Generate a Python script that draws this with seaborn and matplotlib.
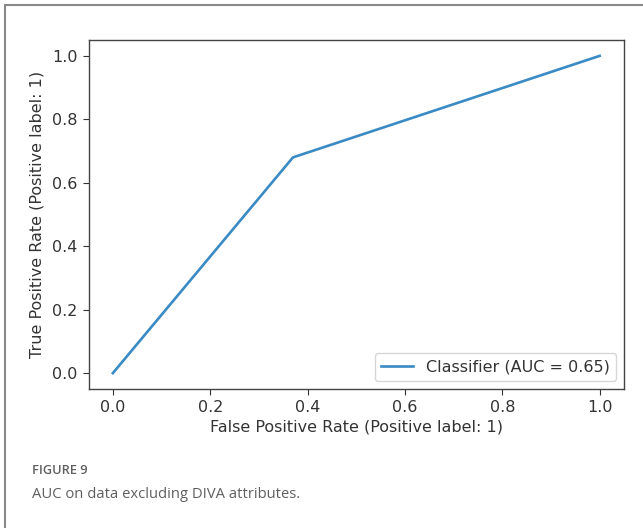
import matplotlib
matplotlib.use("Agg")
import matplotlib.pyplot as plt
import seaborn as sns
import pandas as pd
from matplotlib.patches import Rectangle
from matplotlib import font_manager

fpr = [0.0, 0.37, 1.0]
tpr = [0.0, 0.68, 1.0]
auc_label = "Classifier (AUC = 0.65)"
xticks = [0.0, 0.2, 0.4, 0.6, 0.8, 1.0]
yticks = [0.0, 0.2, 0.4, 0.6, 0.8, 1.0]

df = pd.DataFrame({"fpr": fpr, "tpr": tpr})

plt.rcParams["font.family"] = ["DejaVu Sans"]
fp = font_manager.FontProperties(family="DejaVu Sans", size=11.5)

W, H = 643, 528
fig = plt.figure(figsize=(W / 100, H / 100), dpi=100)
fig.patch.set_facecolor("white")

# outer box
fig.patches.append(Rectangle((5 / W, -0.1), 1.2, (1 - 5 / H) + 0.1, transform=fig.transFigure,
                             fill=False, edgecolor="#888888", linewidth=1.5, clip_on=False))

ax = fig.add_axes([88.5 / W, 1 - 389 / H, (624 - 88.5) / W, (389 - 40) / H])
sns.lineplot(data=df, x="fpr", y="tpr", ax=ax, color="#3a8ac4", linewidth=1.9,
             label=auc_label, estimator=None, sort=False)
ax.set_xlim(-0.05, 1.05)
ax.set_ylim(-0.05, 1.05)
ax.set_xticks(xticks)
ax.set_yticks(yticks)
ax.set_xticklabels([f"{t:.1f}" for t in xticks], fontproperties=fp, color="#333333")
ax.set_yticklabels([f"{t:.1f}" for t in yticks], fontproperties=fp, color="#333333")
ax.tick_params(colors="#333333", length=4.5)
ax.set_xlabel("False Positive Rate (Positive label: 1)", fontproperties=fp, color="#333333",
              labelpad=3)
ax.set_ylabel("True Positive Rate (Positive label: 1)", fontproperties=fp, color="#333333",
              labelpad=5)
for s in ax.spines.values():
    s.set_color("#444444")
    s.set_linewidth(1.0)
leg = ax.legend(loc="lower right", prop=fp)
for t in leg.get_texts():
    t.set_color("#333333")

fig.text(32 / W, 1 - 471 / H, "FIGURE 9", fontsize=9.2, color="#606060",
         family="Open Sans", weight="semibold", va="center")
fig.text(32 / W, 1 - 494 / H, "AUC on data excluding DIVA attributes.", fontsize=10.65,
         color="#5e5e5e", family="Open Sans", va="center")

fig.savefig("out.png", dpi=100)
